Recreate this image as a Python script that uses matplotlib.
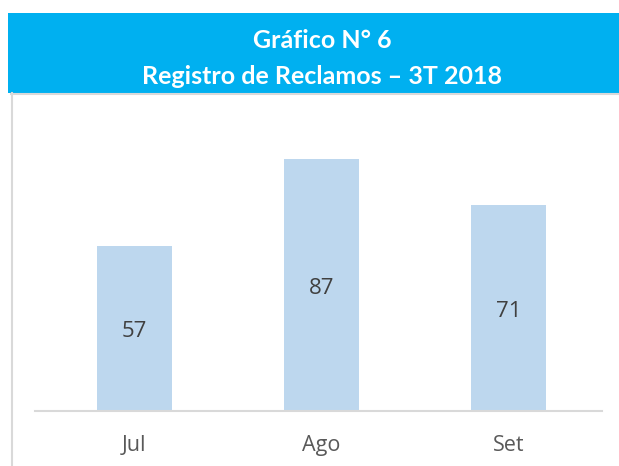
import matplotlib
matplotlib.use("Agg")
import matplotlib.pyplot as plt
from matplotlib.patches import Rectangle
from matplotlib.lines import Line2D

categories = ["Jul", "Ago", "Set"]
values = [57, 87, 71]
title_line1 = "Gráfico N° 6"
title_line2 = "Registro de Reclamos – 3T 2018"

W, H = 619, 466
fig = plt.figure(figsize=(W / 100, H / 100), dpi=100)
fig.patch.set_facecolor("white")

def fx(px):
    return px / W

def fy(py):
    return 1 - py / H

# banner
fig.patches.append(Rectangle((fx(8), fy(93)), fx(619) - fx(8), (93 - 13) / H,
                             transform=fig.transFigure, facecolor="#00B0F0",
                             edgecolor="none", zorder=0))
# frame lines
fig.lines.append(Line2D([fx(11.5), fx(11.5)], [fy(93), fy(466)], transform=fig.transFigure,
                        color="#D9D9D9", lw=1.5))
fig.lines.append(Line2D([fx(11), fx(619)], [fy(94.5), fy(94.5)], transform=fig.transFigure,
                        color="#D9D9D9", lw=1.5))

fig.text(fx(322), fy(40), title_line1, ha="center", va="center", color="white",
         fontsize=18, fontweight="bold", family="Lato")
fig.text(fx(322), fy(77), title_line2, ha="center", va="center", color="white",
         fontsize=18, fontweight="bold", family="Lato")

# axes: baseline at y=411, x from 35 to 602, ylim 0..100 with 2.9 px/unit
ax_left, ax_right = 35, 602
ax_bottom = 411
ymax = 100
ax_top = ax_bottom - 2.9 * ymax
ax = fig.add_axes([fx(ax_left), fy(ax_bottom), (ax_right - ax_left) / W, (ax_bottom - ax_top) / H])
ax.set_facecolor("none")

x = list(range(len(categories)))
bars = ax.bar(x, values, width=0.4, color="#BDD7EE", zorder=2)
ax.set_xlim(-0.532, 2.5)
ax.set_ylim(0, ymax)
for xi, v in zip(x, values):
    ax.annotate(str(v), (xi, v / 2), xytext=(0, -2.5), textcoords="offset points",
                ha="center", va="center", fontsize=16, color="#404040",
                family="Open Sans", zorder=3)

for s in ["top", "right", "left"]:
    ax.spines[s].set_visible(False)
ax.spines["bottom"].set_color("#D9D9D9")
ax.spines["bottom"].set_linewidth(1.5)
ax.set_yticks([])
ax.set_xticks(x)
ax.set_xticklabels(categories, fontsize=15.5, color="#595959", family="Open Sans")
ax.tick_params(axis="x", length=0, pad=17)

fig.savefig("out.png", dpi=100)
